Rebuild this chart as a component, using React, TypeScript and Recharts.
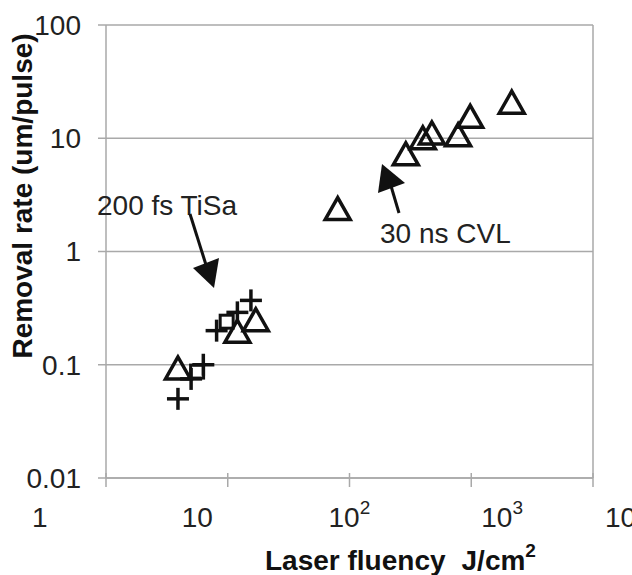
import React from "react";
import { ScatterChart, Scatter, XAxis, YAxis, CartesianGrid, ReferenceLine } from "recharts";

// axis ticks (decades)
const xTicks = [1, 10, 100, 1000, 10000];
const yTicks = [0.01, 0.1, 1, 10, 100];

// open triangles (30 ns CVL + a few fs points)
const triFluence = [3.9, 12, 17, 80, 290, 400, 475, 780, 980, 2150];
const triRate = [0.09, 0.19, 0.24, 2.3, 7, 9.7, 10.7, 10.3, 15, 20];

// crosses (200 fs TiSa)
const crossFluence = [3.9, 5, 6.3, 8.1, 12, 15.5];
const crossRate = [0.05, 0.075, 0.1, 0.2, 0.29, 0.37];

// small open squares
const squareFluence = [5.6, 9.8];
const squareRate = [0.087, 0.24];

const toPoints = (xs: number[], ys: number[]) => xs.map((x, i) => ({ x, y: ys[i] }));

const triData = toPoints(triFluence, triRate);
const crossData = toPoints(crossFluence, crossRate);
const squareData = toPoints(squareFluence, squareRate);

const GRID = "#a9a9a9";
const INK = "#111";
const FONT = "'Liberation Sans', Arial, sans-serif";

const Triangle = (props: any) => {
  const { cx, cy } = props;
  return (
    <polygon
      points={`${cx},${cy - 13} ${cx - 12.5},${cy + 9} ${cx + 12.5},${cy + 9}`}
      fill="none"
      stroke={INK}
      strokeWidth={3.5}
      strokeLinejoin="miter"
    />
  );
};

const Cross = (props: any) => {
  const { cx, cy } = props;
  return (
    <g stroke={INK} strokeWidth={3.5}>
      <line x1={cx - 11} x2={cx + 11} y1={cy} y2={cy} />
      <line x1={cx} x2={cx} y1={cy - 11} y2={cy + 11} />
    </g>
  );
};

const Square = (props: any) => {
  const { cx, cy } = props;
  return <rect x={cx - 6.5} y={cy - 6.5} width={13} height={13} fill="none" stroke={INK} strokeWidth={3} />;
};

// the original's x labels are spread wider than the tick marks
const labelStart = [-74, -46, -21, 10, 12];

const XTick = (props: any) => {
  const { x, y, payload, index } = props;
  const v = payload.value as number;
  const exp = Math.round(Math.log10(v));
  return (
    <g>
      <line x1={x} x2={x} y1={y - 5} y2={y + 9} stroke={GRID} strokeWidth={1.5} />
      <text x={x + labelStart[index]} y={y + 49} textAnchor="start" fontSize={28} fill="#222" fontFamily={FONT}>
        {exp < 2 ? (
          String(v)
        ) : (
          <>
            10
            <tspan dy={-13} fontSize={19}>
              {exp}
            </tspan>
          </>
        )}
      </text>
    </g>
  );
};

export default function App() {
  return (
    <div style={{ position: "relative", width: 632, height: 575, background: "#fff" }}>
      <style>{"body{margin:0}"}</style>
      <ScatterChart width={632} height={575} margin={{ top: 25, right: 39, bottom: 0, left: 0 }}>
        <CartesianGrid vertical={false} stroke={GRID} strokeWidth={1.5} />
        <XAxis
          type="number"
          dataKey="x"
          scale="log"
          domain={[1, 10000]}
          ticks={xTicks}
          allowDataOverflow
          height={97}
          stroke={GRID}
          strokeWidth={1.5}
          tickLine={false}
          tickSize={0}
          tickMargin={0}
          tick={<XTick />}
          interval={0}
        />
        <YAxis
          type="number"
          dataKey="y"
          scale="log"
          domain={[0.01, 100]}
          ticks={yTicks}
          allowDataOverflow
          width={106}
          stroke={GRID}
          strokeWidth={1.5}
          tickSize={8}
          tickMargin={17}
          interval={0}
          tickFormatter={(v: number) => String(v)}
          tick={{ fontSize: 28, fill: "#222", fontFamily: FONT }}
        />
        <ReferenceLine x={10000} stroke={GRID} strokeWidth={1.5} />
        <Scatter data={triData} shape={<Triangle />} isAnimationActive={false} />
        <Scatter data={crossData} shape={<Cross />} isAnimationActive={false} />
        <Scatter data={squareData} shape={<Square />} isAnimationActive={false} />
      </ScatterChart>

      <svg
        width={632}
        height={575}
        style={{ position: "absolute", left: 0, top: 0, pointerEvents: "none" }}
        fontFamily={FONT}
      >
        <text x={32} y={196} transform="rotate(-90 32 196)" textAnchor="middle" fontSize={28} fontWeight="bold" fill={INK}>
          Removal rate (um/pulse)
        </text>
        <text x={265} y={570} fontSize={28} fontWeight="bold" fill={INK}>
          Laser fluency
          <tspan dx={16}>J/cm</tspan>
          <tspan dy={-13} fontSize={19}>
            2
          </tspan>
        </text>

        <text x={97} y={215} fontSize={28} fill="#222">
          200 fs TiSa
        </text>
        <line x1={190} y1={214} x2={207} y2={268} stroke={INK} strokeWidth={3} />
        <polygon points="214,288 193,268 219,258" fill={INK} />

        <text x={380} y={243} fontSize={28} fill="#222">
          30 ns CVL
        </text>
        <line x1={399} y1={213} x2={391} y2={186} stroke={INK} strokeWidth={3} />
        <polygon points="382,164 378,193 405,183" fill={INK} />
      </svg>
    </div>
  );
}
